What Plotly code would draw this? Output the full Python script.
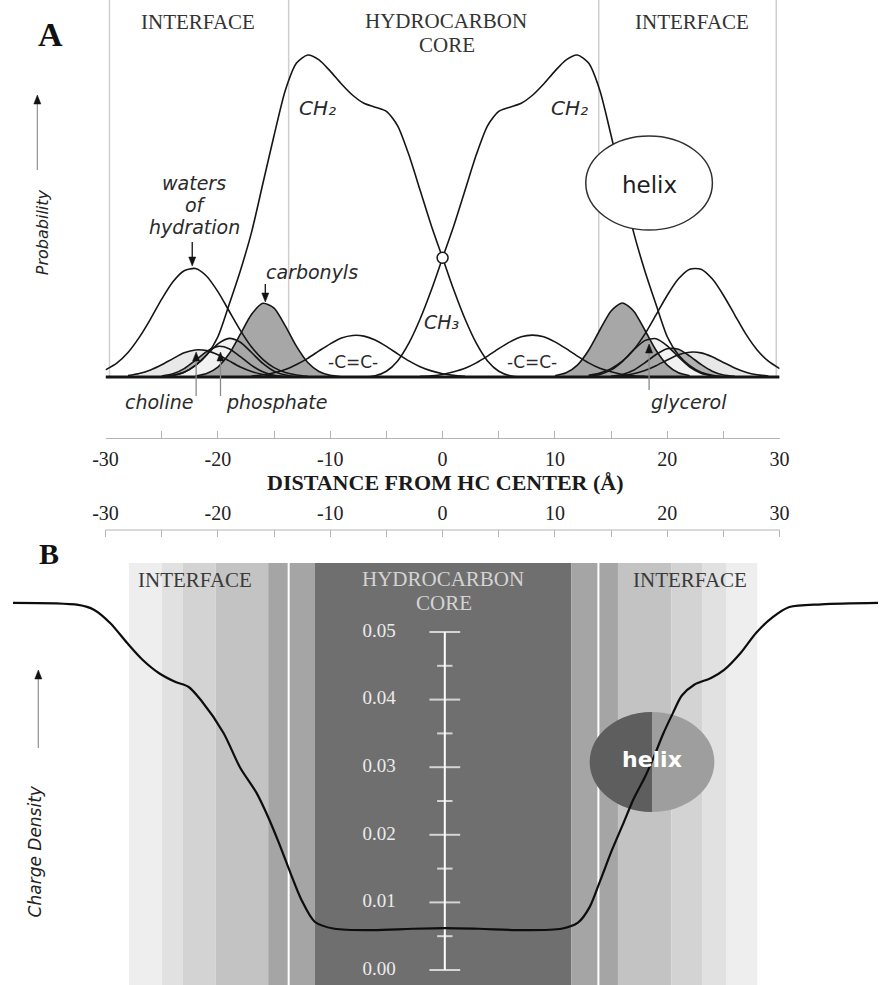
import plotly.graph_objects as go

W, H = 888, 985

# ---------------- Panel A: group distributions across the bilayer ----------------
# distance from hydrocarbon centre (Å) and relative probability
water_l_x = [-30, -29, -28, -27, -26, -25, -24, -23, -22, -21, -20, -19, -18, -17, -16, -15, -14, -13, -12]
water_l_y = [0.022, 0.043, 0.076, 0.123, 0.180, 0.242, 0.296, 0.330, 0.337, 0.313, 0.265, 0.205, 0.145,
             0.093, 0.055, 0.029, 0.014, 0.006, 0.002]
water_r_x = [13, 14, 15, 16, 17, 18, 19, 20, 21, 22, 23, 24, 25, 26, 27, 28, 29, 30]
water_r_y = [0.005, 0.012, 0.026, 0.049, 0.084, 0.133, 0.193, 0.254, 0.305, 0.335, 0.335, 0.305, 0.254,
             0.193, 0.133, 0.084, 0.049, 0.026]

ch2_l_x = [-25, -24, -23, -22, -21, -20, -19, -18, -17, -16, -15, -14, -13, -12, -11, -10, -9, -8, -7,
           -6, -5, -4, -3, -2, -1, 0, 1, 2, 3, 4, 5, 6, 7]
ch2_l_y = [0.0, 0.005, 0.015, 0.035, 0.068, 0.125, 0.225, 0.33, 0.45, 0.6, 0.75, 0.89, 0.975, 1.0, 0.985,
           0.95, 0.91, 0.875, 0.85, 0.838, 0.825, 0.78, 0.69, 0.58, 0.47, 0.37, 0.27, 0.18, 0.105, 0.05,
           0.018, 0.004, 0.0]
ch2_r_x = [-7, -6, -5, -4, -3, -2, -1, 0, 1, 2, 3, 4, 5, 6, 7, 8, 9, 10, 11, 12, 13, 14, 15, 16, 17, 18,
           19, 20, 21, 22, 23, 24, 25]
ch2_r_y = [0.0, 0.004, 0.018, 0.05, 0.105, 0.18, 0.27, 0.37, 0.47, 0.58, 0.69, 0.78, 0.825, 0.838, 0.85,
           0.875, 0.91, 0.95, 0.985, 1.0, 0.975, 0.89, 0.75, 0.6, 0.45, 0.33, 0.225, 0.125, 0.068, 0.035,
           0.015, 0.005, 0.0]
ch2_cross = [0.0, 0.37]

carbonyl_l_x = [-22, -21, -20, -19, -18, -17, -16, -15, -14, -13, -12, -11, -10, -9]
carbonyl_l_y = [0.003, 0.011, 0.031, 0.072, 0.133, 0.195, 0.229, 0.214, 0.159, 0.095, 0.045, 0.017, 0.005, 0.001]
carbonyl_r_x = [10, 11, 12, 13, 14, 15, 16, 17, 18, 19, 20, 21, 22]
carbonyl_r_y = [0.004, 0.013, 0.037, 0.083, 0.146, 0.205, 0.23, 0.205, 0.146, 0.083, 0.037, 0.013, 0.004]

cc_l_x = [-17, -16, -15, -14, -13, -12, -11, -10, -9, -8, -7, -6, -5, -4, -3, -2, -1, 0, 1, 2]
cc_l_y = [0.003, 0.007, 0.013, 0.023, 0.039, 0.058, 0.081, 0.103, 0.121, 0.129, 0.127, 0.115, 0.095,
          0.072, 0.05, 0.032, 0.019, 0.01, 0.005, 0.002]
cc_r_x = [-2, -1, 0, 1, 2, 3, 4, 5, 6, 7, 8, 9, 10, 11, 12, 13, 14, 15, 16, 17, 18]
cc_r_y = [0.002, 0.004, 0.008, 0.016, 0.027, 0.044, 0.065, 0.088, 0.109, 0.125, 0.13, 0.125, 0.109,
          0.088, 0.065, 0.044, 0.027, 0.016, 0.008, 0.004, 0.002]

choline_l_x = [-28, -27, -26, -25, -24, -23, -22, -21, -20, -19, -18, -17, -16, -15, -14]
choline_l_y = [0.0045, 0.011, 0.022, 0.038, 0.057, 0.075, 0.084, 0.082, 0.069, 0.05, 0.031, 0.017, 0.008, 0.003, 0.001]
choline_r_x = [15, 16, 17, 18, 19, 20, 21, 22, 23, 24, 25, 26, 27, 28, 29]
choline_r_y = [0.0015, 0.004, 0.010, 0.020, 0.035, 0.053, 0.069, 0.077, 0.075, 0.063, 0.045, 0.028, 0.015, 0.007, 0.003]

phosphate_l_x = [-25, -24, -23, -22, -21, -20, -19, -18, -17, -16, -15, -14]
phosphate_l_y = [0.003, 0.010, 0.026, 0.052, 0.079, 0.095, 0.088, 0.063, 0.036, 0.016, 0.005, 0.001]
phosphate_r_x = [15, 16, 17, 18, 19, 20, 21, 22, 23, 24, 25, 26]
phosphate_r_y = [0.002, 0.008, 0.021, 0.044, 0.070, 0.088, 0.086, 0.065, 0.039, 0.018, 0.006, 0.002]

glycerol_l_x = [-24, -23, -22, -21, -20, -19, -18, -17, -16, -15, -14, -13]
glycerol_l_y = [0.005, 0.015, 0.036, 0.069, 0.103, 0.12, 0.108, 0.076, 0.042, 0.018, 0.006, 0.001]
glycerol_r_x = [13, 14, 15, 16, 17, 18, 19, 20, 21, 22, 23, 24, 25]
glycerol_r_y = [0.002, 0.008, 0.022, 0.048, 0.084, 0.113, 0.119, 0.097, 0.062, 0.031, 0.012, 0.004, 0.001]

# region boundaries of panel A (Å)
region_lines_a = [-29.65, -13.7, 13.9, 29.7]

# ---------------- Panel B: charge-density profile ----------------
charge_x = [-38.24, -32.43, -31.04, -29.57, -28.09, -26.71, -25.23, -23.76, -22.63, -21.50, -19.51, -18.04,
            -16.56, -15.52, -14.57, -13.53, -12.57, -11.36, -9.62, -6.16, -2.69, 0.26, 3.21, 7.20, 10.58,
            12.05, 13.09, 14.05, 15.09, 16.04, 17.0, 18.0, 18.8, 19.6, 20.5, 21.3, 22.4, 23.9, 25.06,
            26.53, 27.92, 29.39, 30.87, 33.73, 38.76]
charge_y = [0.0543, 0.0540, 0.0533, 0.0513, 0.0484, 0.0459, 0.0439, 0.0426, 0.0419, 0.0399, 0.0351, 0.0300,
            0.0262, 0.0226, 0.0188, 0.0143, 0.0104, 0.0071, 0.0061, 0.0059, 0.0061, 0.0062, 0.0061, 0.0059,
            0.0061, 0.0070, 0.0093, 0.0133, 0.0178, 0.0215, 0.0253, 0.0285, 0.0315, 0.0348, 0.0380,
            0.0406, 0.0422, 0.0432, 0.0444, 0.0469, 0.0499, 0.0522, 0.0537, 0.0541, 0.0543]

scale_major = [0.00, 0.01, 0.02, 0.03, 0.04, 0.05]
scale_minor = [0.005, 0.015, 0.025, 0.035, 0.045]
scale_labels = ['0.00', '0.01', '0.02', '0.03', '0.04', '0.05']

band_bounds = [-27.92, -24.97, -23.15, -20.20, -15.52, -11.36, 11.45, 15.61, 20.38, 23.15, 25.23, 28.01]
divider_lines_b = [-13.70, 13.87]

# distance axis ticks
dist_ticks = [-30, -20, -10, 0, 10, 20, 30]
dist_tick_text = ['-30', '-20', '-10', '0', '10', '20', '30']
dist_minor = [-25, -15, -5, 5, 15, 25]

# ---------------- layout geometry (pixels) ----------------
X_LEFT, X_RIGHT = 95, 787
X_ZERO = 441
PXA = (X_RIGHT - X_LEFT) / 60.0          # pixels per Å
A_BASE, A_AXIS, A_TOP, A_UNIT = 377, 438, 39, 322
B_TOP, B_ZERO, B_UNIT = 530, 970, 6760.0  # pixels per unit charge density
B_BANDS_TOP = 563


def fx(p):
    return p / W


def fy(p):
    return 1 - p / H


INK = '#161616'
SANS = 'DejaVu Sans'
SERIF = 'Liberation Serif'

fig = go.Figure()

# fills of the shaded distributions
fill_sets = [
    (choline_l_x, choline_l_y, '#e8e8e8'), (choline_r_x, choline_r_y, '#e8e8e8'),
    (phosphate_l_x, phosphate_l_y, '#b2b2b2'), (phosphate_r_x, phosphate_r_y, '#b2b2b2'),
    (glycerol_l_x, glycerol_l_y, '#f2f2f2'), (glycerol_r_x, glycerol_r_y, '#f2f2f2'),
    (carbonyl_l_x, carbonyl_l_y, '#a7a7a7'), (carbonyl_r_x, carbonyl_r_y, '#a7a7a7'),
]
for xs, ys, col in fill_sets:
    fig.add_trace(go.Scatter(x=xs, y=ys, xaxis='x', yaxis='y', mode='lines',
                             line=dict(width=0, shape='spline', smoothing=0.7),
                             fill='tozeroy', fillcolor=col, hoverinfo='skip', showlegend=False))

# outlines of every distribution
outline_sets = [
    (water_l_x, water_l_y), (water_r_x, water_r_y),
    (choline_l_x, choline_l_y), (choline_r_x, choline_r_y),
    (phosphate_l_x, phosphate_l_y), (phosphate_r_x, phosphate_r_y),
    (glycerol_l_x, glycerol_l_y), (glycerol_r_x, glycerol_r_y),
    (carbonyl_l_x, carbonyl_l_y), (carbonyl_r_x, carbonyl_r_y),
    (cc_l_x, cc_l_y), (cc_r_x, cc_r_y),
    (ch2_l_x, ch2_l_y), (ch2_r_x, ch2_r_y),
]
for xs, ys in outline_sets:
    fig.add_trace(go.Scatter(x=xs, y=ys, xaxis='x', yaxis='y', mode='lines',
                             line=dict(color=INK, width=1.6, shape='spline', smoothing=0.7),
                             hoverinfo='skip', showlegend=False))

# small ring where the two methylene profiles cross at the centre
fig.add_trace(go.Scatter(x=[ch2_cross[0]], y=[ch2_cross[1]], xaxis='x', yaxis='y', mode='markers',
                         marker=dict(symbol='circle', size=11, color='white', line=dict(color=INK, width=1.5)),
                         hoverinfo='skip', showlegend=False))

# ---- panel B ----
# scale bar (white) and its labels
bar_y = sorted(scale_major + scale_minor)
bar_size = [22 if v in scale_major else 11 for v in bar_y]
fig.add_trace(go.Scatter(x=[0.2] * len(bar_y), y=bar_y, xaxis='x2', yaxis='y2', mode='lines+markers',
                         line=dict(color='white', width=2),
                         marker=dict(symbol='line-ew', size=bar_size, color='white',
                                     line=dict(color='white', width=2)),
                         hoverinfo='skip', showlegend=False))
fig.add_trace(go.Scatter(x=[-5.64] * len(scale_major), y=scale_major, xaxis='x2', yaxis='y2', mode='text',
                         text=scale_labels, textposition='middle center',
                         textfont=dict(family=SERIF, size=19, color='#ececec'),
                         hoverinfo='skip', showlegend=False))

fig.add_trace(go.Scatter(x=charge_x, y=charge_y, xaxis='x2', yaxis='y2', mode='lines',
                         line=dict(color='#0d0d0d', width=2.2, shape='spline', smoothing=0.8),
                         hoverinfo='skip', showlegend=False))

shapes = []
# panel A region boundaries
for xv in region_lines_a:
    shapes.append(dict(type='line', xref='x', yref='paper', x0=xv, x1=xv, y0=fy(A_BASE), y1=1.0,
                       line=dict(color='#cfcfcf', width=1.5), layer='below'))
# panel A baseline
shapes.append(dict(type='line', xref='x', yref='y', x0=-30, x1=30, y0=0, y1=0,
                   line=dict(color=INK, width=3), layer='above'))
# helix in panel A
shapes.append(dict(type='circle', xref='x', yref='y',
                   x0=(588 - X_ZERO) / PXA, x1=(718 - X_ZERO) / PXA,
                   y0=(A_BASE - 230) / A_UNIT, y1=(A_BASE - 136) / A_UNIT,
                   fillcolor='white', line=dict(color='#303030', width=1.5), layer='above'))

# panel B shaded bands
band_colors = ['#eeeeee', '#e1e1e1', '#d3d3d3', '#c3c3c3', '#a5a5a5', '#6f6f6f',
               '#a5a5a5', '#c3c3c3', '#d3d3d3', '#e1e1e1', '#eeeeee']
for i, col in enumerate(band_colors):
    shapes.append(dict(type='rect', xref='x2', yref='paper', x0=band_bounds[i], x1=band_bounds[i + 1],
                       y0=0, y1=fy(B_BANDS_TOP), fillcolor=col, line=dict(width=0), layer='below'))
for xv in divider_lines_b:
    shapes.append(dict(type='line', xref='x2', yref='paper', x0=xv, x1=xv, y0=0, y1=fy(B_BANDS_TOP),
                       line=dict(color='white', width=2), layer='below'))
# panel B distance axis line
shapes.append(dict(type='line', xref='x2', yref='paper', x0=-30, x1=30, y0=fy(B_TOP), y1=fy(B_TOP),
                   line=dict(color='#b4b4b4', width=1)))

# helix in panel B: light ellipse with a dark left half
hx0, hx1 = (592 - X_ZERO) / PXA, (720 - X_ZERO) / PXA
hy0, hy1 = (B_ZERO - 812) / B_UNIT, (B_ZERO - 712) / B_UNIT
hcx, hcy = (hx0 + hx1) / 2, (hy0 + hy1) / 2
hrx, hry = (hx1 - hx0) / 2, (hy1 - hy0) / 2
k = 0.5523
shapes.append(dict(type='circle', xref='x2', yref='y2', x0=hx0, x1=hx1, y0=hy0, y1=hy1,
                   fillcolor='#9e9e9e', line=dict(width=0), layer='below'))
half = (f'M {hcx},{hcy + hry} C {hcx - k * hrx},{hcy + hry} {hcx - hrx},{hcy + k * hry} {hcx - hrx},{hcy} '
        f'C {hcx - hrx},{hcy - k * hry} {hcx - k * hrx},{hcy - hry} {hcx},{hcy - hry} Z')
shapes.append(dict(type='path', xref='x2', yref='y2', path=half, fillcolor='#5e5e5e',
                   line=dict(width=0), layer='below'))


# pointer arrows: shaft line plus a filled head (pixel geometry)
def pointer(x, y_tail, y_tip, shaft_color):
    up = y_tip < y_tail
    base = y_tip + 9 if up else y_tip - 9
    shapes.append(dict(type='line', xref='paper', yref='paper', x0=fx(x), x1=fx(x),
                       y0=fy(y_tail), y1=fy(base), line=dict(color=shaft_color, width=1.3)))
    shapes.append(dict(type='path', xref='paper', yref='paper',
                       path=f'M {fx(x)},{fy(y_tip)} L {fx(x - 3.6)},{fy(base)} L {fx(x + 3.6)},{fy(base)} Z',
                       fillcolor='#111', line=dict(color='#111', width=0.5)))


pointer(25, 170, 95, '#9a9a9a')      # probability axis
pointer(26, 748, 670, '#9a9a9a')     # charge-density axis
pointer(184, 242, 266, '#111')       # waters
pointer(259, 284, 302, '#111')       # carbonyls
pointer(188, 396, 352, '#8a8a8a')    # choline
pointer(213, 396, 352, '#8a8a8a')    # phosphate
pointer(653, 390, 344, '#8a8a8a')    # glycerol

ann = []


def text(x, y, s, size, color='#2a2a2a', family=SERIF, xref='paper', yref='paper', style='normal',
         angle=0, weight='normal'):
    ann.append(dict(x=x, y=y, xref=xref, yref=yref, text=s, showarrow=False, xanchor='center',
                    yanchor='middle', textangle=angle,
                    font=dict(family=family, size=size, color=color, style=style, weight=weight)))


# panel letters and region headings
text(fx(38), fy(34), 'A', 34, color='#111', weight='bold')
text(fx(37), fy(553), 'B', 30, color='#111', weight='bold')
text(fx(190), fy(22), 'INTERFACE', 21, color='#333')
text(fx(444), fy(21), 'HYDROCARBON', 21, color='#333')
text(fx(446), fy(45), 'CORE', 21, color='#333')
text(fx(697), fy(22), 'INTERFACE', 21, color='#333')
text(fx(187), fy(580), 'INTERFACE', 21, color='#3a3a3a')
text(fx(441), fy(579), 'HYDROCARBON', 21, color='#d4d4d4')
text(fx(442), fy(603), 'CORE', 21, color='#d4d4d4')
text(fx(695), fy(580), 'INTERFACE', 21, color='#3a3a3a')
text(fx(444), fy(482), '<b>DISTANCE FROM HC CENTER (Å)</b>', 22, color='#1a1a1a')

# axis captions
text(fx(31), fy(232), 'Probability', 16, color='#222', family=SANS, style='italic', angle=-90)
text(fx(23), fy(851), 'Charge Density', 17, color='#222', family=SANS, style='italic', angle=-90)

# component labels, panel A
text(fx(186), fy(183), 'waters', 19, family=SANS, style='italic')
text(fx(188), fy(205), 'of', 19, family=SANS, style='italic')
text(fx(186), fy(227), 'hydration', 19, family=SANS, style='italic')
text(fx(307), fy(272), 'carbonyls', 19, family=SANS, style='italic')
text(-11.1, 0.835, 'CH₂', 20, family=SANS, style='italic', xref='x', yref='y')
text(11.27, 0.835, 'CH₂', 20, family=SANS, style='italic', xref='x', yref='y')
text(-0.09, 0.171, 'CH₃', 19, family=SANS, style='italic', xref='x', yref='y')
text(-7.98, 0.047, '-C=C-', 17, family=SANS, xref='x', yref='y')
text(7.98, 0.047, '-C=C-', 17, family=SANS, xref='x', yref='y')
text(fx(150), fy(402), 'choline', 19, family=SANS, style='italic')
text(fx(271), fy(402), 'phosphate', 19, family=SANS, style='italic')
text(fx(694), fy(402), 'glycerol', 19, family=SANS, style='italic')
text(18.38, 0.596, 'helix', 23, color='#1e1e1e', family=SANS, xref='x', yref='y')
text(hcx, hcy + 0.0003, 'helix', 22, color='white', family=SANS, xref='x2', yref='y2', weight='bold')

axis_common = dict(tickmode='array', tickvals=dist_ticks, ticktext=dist_tick_text, ticks='inside',
                   ticklen=7, tickcolor='#b4b4b4', tickwidth=1, showgrid=False, zeroline=False,
                   tickfont=dict(family=SERIF, size=20, color='#222'),
                   minor=dict(tickvals=dist_minor, ticks='inside', ticklen=7, tickcolor='#b4b4b4',
                              tickwidth=1, showgrid=False),
                   fixedrange=True)

fig.update_layout(
    width=W, height=H, margin=dict(l=0, r=0, t=0, b=0),
    paper_bgcolor='white', plot_bgcolor='rgba(0,0,0,0)', showlegend=False,
    font=dict(family=SERIF, color='#222'),
    xaxis=dict(domain=[fx(X_LEFT), fx(X_RIGHT)], range=[-30, 30], anchor='y', showline=True,
               linecolor='#b4b4b4', linewidth=1, ticklabelstandoff=3, **axis_common),
    yaxis=dict(domain=[fy(A_AXIS), fy(A_TOP)],
               range=[-(A_AXIS - A_BASE) / A_UNIT, (A_BASE - A_TOP) / A_UNIT], visible=False,
               fixedrange=True),
    xaxis2=dict(domain=[0, 1], range=[-30 - X_LEFT / PXA, 30 + (W - X_RIGHT) / PXA], anchor='y2',
                side='top', showline=False, ticklabelstandoff=5, **axis_common),
    yaxis2=dict(domain=[0, fy(B_TOP)], range=[-(H - B_ZERO) / B_UNIT, (B_ZERO - B_TOP) / B_UNIT],
                visible=False, fixedrange=True),
    shapes=shapes,
    annotations=ann,
)

fig.write_html('out.html')
